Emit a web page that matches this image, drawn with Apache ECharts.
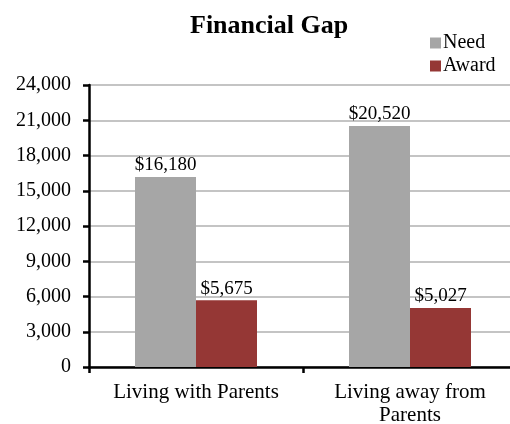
<!DOCTYPE html>
<html>
<head>
<meta charset="utf-8">
<script src="https://cdn.jsdelivr.net/npm/echarts@6/dist/echarts.min.js"></script>
<style>
  html, body { margin: 0; padding: 0; background: #fff; }
  #main { width: 510px; height: 424px; }
</style>
</head>
<body>
<div id="main"></div>
<script>
  const categories = ['Living with Parents', 'Living away from\nParents']
  const needValues = [16180, 20520]
  const awardValues = [5675, 5027]

  const font = '"Liberation Serif", "Times New Roman", serif'
  const chart = echarts.init(document.getElementById('main'))

  const barLabel = {
    show: true,
    position: 'top',
    distance: 2,
    fontFamily: font,
    fontSize: 19,
    color: '#000',
    formatter: (p) => '$' + p.value.toLocaleString('en-US'),
  }

  chart.setOption({
    animation: false,
    textStyle: { fontFamily: font },
    title: {
      text: 'Financial Gap',
      left: 185,
      top: 8,
      textStyle: { fontFamily: font, fontSize: 26, fontWeight: 'bold', color: '#000' },
    },
    legend: {
      orient: 'vertical',
      left: 425,
      top: 28,
      itemWidth: 11,
      itemHeight: 11,
      itemGap: 3,
      icon: 'rect',
      textStyle: { fontFamily: font, fontSize: 20, color: '#000', padding: [0, 0, 0, -3] },
      data: ['Need', 'Award'],
    },
    grid: { left: 89, width: 428, top: 85, bottom: 57, outerBoundsMode: 'none' },
    xAxis: {
      type: 'category',
      data: categories,
      axisLine: { lineStyle: { color: '#000', width: 2.5 } },
      axisTick: { show: true, interval: 0, length: 6, lineStyle: { color: '#000', width: 2.5 } },
      axisLabel: { interval: 0, fontFamily: font, fontSize: 21, color: '#000', margin: 14, lineHeight: 23 },
    },
    yAxis: {
      type: 'value',
      min: 0,
      max: 24000,
      interval: 3000,
      axisLine: { show: true, lineStyle: { color: '#000', width: 2.5 } },
      axisTick: { show: true, length: 6, lineStyle: { color: '#000', width: 2.5 } },
      axisLabel: {
        fontFamily: font,
        fontSize: 20,
        color: '#000',
        margin: 18,
        formatter: (v) => v.toLocaleString('en-US'),
      },
      splitLine: { lineStyle: { color: '#c4c4c4', width: 2 } },
    },
    series: [
      {
        name: 'Need',
        type: 'bar',
        data: needValues,
        barWidth: 61,
        barGap: '0%',
        itemStyle: { color: '#a6a6a6' },
        label: barLabel,
      },
      {
        name: 'Award',
        type: 'bar',
        data: awardValues,
        barWidth: 61,
        itemStyle: { color: '#953735' },
        label: barLabel,
      },
    ],
  })
</script>
</body>
</html>
